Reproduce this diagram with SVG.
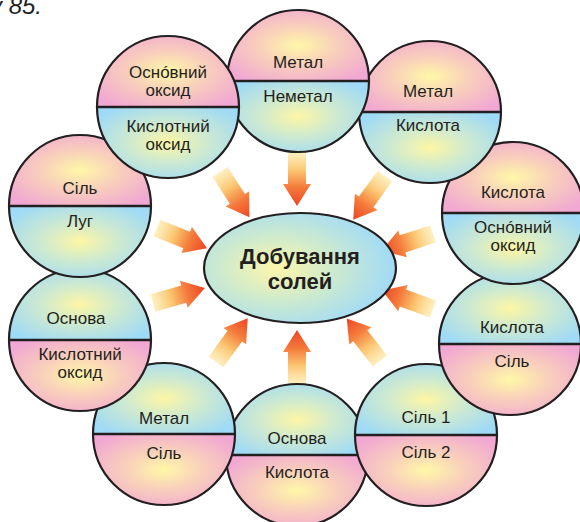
<svg xmlns="http://www.w3.org/2000/svg" xmlns:xlink="http://www.w3.org/1999/xlink" width="580" height="522" viewBox="0 0 580 522">
<style>
.ol{fill:none;stroke:#231f20;stroke-width:2.2}
.dv{stroke:#231f20;stroke-width:2.6}
.t{font-family:"Liberation Sans",Arial,sans-serif;font-size:17px;fill:#231f20;text-anchor:middle}
.c{font-family:"Liberation Sans",Arial,sans-serif;font-size:22px;font-weight:bold;fill:#231f20;text-anchor:middle}
.pk{fill:url(#gp)}
.bl{fill:url(#gb)}
</style>
<defs>
<radialGradient id="gp" cx="0.5" cy="0.5" r="0.6">
<stop offset="0" stop-color="#fff8a8"/>
<stop offset="0.45" stop-color="#f9d0bb"/>
<stop offset="1" stop-color="#f1a8d2"/>
</radialGradient>
<radialGradient id="gb" cx="0.5" cy="0.5" r="0.6">
<stop offset="0" stop-color="#fdf6a4"/>
<stop offset="0.45" stop-color="#cfeacf"/>
<stop offset="1" stop-color="#9fdaf6"/>
</radialGradient>
<radialGradient id="ge" cx="0.38" cy="0.5" r="0.6">
<stop offset="0" stop-color="#fdf6ab"/>
<stop offset="0.5" stop-color="#cdeace"/>
<stop offset="1" stop-color="#a3dbf5"/>
</radialGradient>
<linearGradient id="ga" x1="0" y1="0" x2="1" y2="0">
<stop offset="0" stop-color="#fde9a6" stop-opacity="0.7"/>
<stop offset="0.35" stop-color="#fbc46e"/>
<stop offset="0.65" stop-color="#f47c3c"/>
<stop offset="1" stop-color="#ee4424"/>
</linearGradient>
<path id="top" d="M-71,0A71,71 0 0 1 71,0Z"/>
<path id="bot" d="M-71,0A71,71 0 0 0 71,0Z"/>
<path id="arr" d="M0,-9L32,-9L32,-14L54,0L32,14L32,9L0,9Z" fill="url(#ga)"/>
</defs>
<rect width="580" height="522" fill="#ffffff"/>
<text x="-10" y="14" font-family="Liberation Sans,Arial,sans-serif" font-size="24" font-style="italic" fill="#231f20">у 85.</text>
<g id="connectors">
<use xlink:href="#arr" transform="translate(220,172) rotate(57)"/>
<use xlink:href="#arr" transform="translate(297,152) rotate(90)"/>
<use xlink:href="#arr" transform="translate(385,176) rotate(126)"/>
<use xlink:href="#arr" transform="translate(433,234) rotate(162)"/>
<use xlink:href="#arr" transform="translate(433,309) rotate(200)"/>
<use xlink:href="#arr" transform="translate(380,361) rotate(232)"/>
<use xlink:href="#arr" transform="translate(297,384) rotate(270)"/>
<use xlink:href="#arr" transform="translate(216,362) rotate(-54)"/>
<use xlink:href="#arr" transform="translate(153,303) rotate(-16)"/>
<use xlink:href="#arr" transform="translate(157,228) rotate(22)"/>
</g>
<g id="center">
<ellipse cx="300" cy="268" rx="96" ry="55" fill="url(#ge)" stroke="#231f20" stroke-width="2.2"/>
<text class="c" x="300" y="264">Добування</text>
<text class="c" x="300" y="289">солей</text>
</g>
<g id="n7" transform="translate(297,455)">
<use xlink:href="#top" class="bl"/><use xlink:href="#bot" class="pk"/>
<line class="dv" x1="-71" x2="71" y1="0" y2="0"/><circle class="ol" r="71"/>
<text class="t" x="0" y="-11">Основа</text><text class="t" x="0" y="23">Кислота</text>
</g>
<g id="n6" transform="translate(426,435)">
<use xlink:href="#top" class="bl"/><use xlink:href="#bot" class="pk"/>
<line class="dv" x1="-71" x2="71" y1="0" y2="0"/><circle class="ol" r="71"/>
<text class="t" x="0" y="-12">Сіль 1</text><text class="t" x="0" y="23">Сіль 2</text>
</g>
<g id="n8" transform="translate(164,434)">
<use xlink:href="#top" class="bl"/><use xlink:href="#bot" class="pk"/>
<line class="dv" x1="-71" x2="71" y1="0" y2="0"/><circle class="ol" r="71"/>
<text class="t" x="0" y="-10">Метал</text><text class="t" x="0" y="25">Сіль</text>
</g>
<g id="n5" transform="translate(510,344)">
<use xlink:href="#top" class="bl"/><use xlink:href="#bot" class="pk"/>
<line class="dv" x1="-71" x2="71" y1="0" y2="0"/><circle class="ol" r="71"/>
<text class="t" x="2" y="-11">Кислота</text><text class="t" x="2" y="23">Сіль</text>
</g>
<g id="n9" transform="translate(80,340)">
<use xlink:href="#top" class="bl"/><use xlink:href="#bot" class="pk"/>
<line class="dv" x1="-71" x2="71" y1="0" y2="0"/><circle class="ol" r="71"/>
<text class="t" x="-4" y="-16">Основа</text><text class="t" x="0" y="20">Кислотний</text><text class="t" x="0" y="38">оксид</text>
</g>
<g id="n4" transform="translate(513,213)">
<use xlink:href="#top" class="pk"/><use xlink:href="#bot" class="bl"/>
<line class="dv" x1="-71" x2="71" y1="0" y2="0"/><circle class="ol" r="71"/>
<text class="t" x="0" y="-15">Кислота</text><text class="t" x="0" y="20">Оснóвний</text><text class="t" x="0" y="38">оксид</text>
</g>
<g id="n10" transform="translate(80,206)">
<use xlink:href="#top" class="pk"/><use xlink:href="#bot" class="bl"/>
<line class="dv" x1="-71" x2="71" y1="0" y2="0"/><circle class="ol" r="71"/>
<text class="t" x="0" y="-12">Сіль</text><text class="t" x="0" y="21">Луг</text>
</g>
<g id="n3" transform="translate(430,112)">
<use xlink:href="#top" class="pk"/><use xlink:href="#bot" class="bl"/>
<line class="dv" x1="-71" x2="71" y1="0" y2="0"/><circle class="ol" r="71"/>
<text class="t" x="-2" y="-15">Метал</text><text class="t" x="-2" y="19">Кислота</text>
</g>
<g id="n2" transform="translate(298,81)">
<use xlink:href="#top" class="pk"/><use xlink:href="#bot" class="bl"/>
<line class="dv" x1="-71" x2="71" y1="0" y2="0"/><circle class="ol" r="71"/>
<text class="t" x="0" y="-13">Метал</text><text class="t" x="0" y="21">Неметал</text>
</g>
<g id="n1" transform="translate(168,107)">
<use xlink:href="#top" class="pk"/><use xlink:href="#bot" class="bl"/>
<line class="dv" x1="-71" x2="71" y1="0" y2="0"/><circle class="ol" r="71"/>
<text class="t" x="0" y="-29">Оснóвний</text><text class="t" x="0" y="-11">оксид</text><text class="t" x="0" y="25">Кислотний</text><text class="t" x="0" y="43">оксид</text>
</g>
</svg>
